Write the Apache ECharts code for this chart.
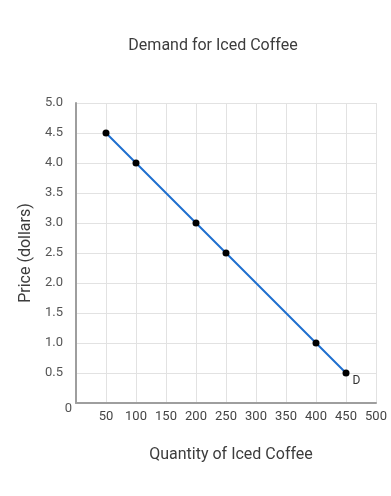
<!DOCTYPE html>
<html><head><meta charset="utf-8">
<script src="https://cdn.jsdelivr.net/npm/echarts@6/dist/echarts.min.js"></script>
<style>html,body{margin:0;padding:0;background:#fff}#c{width:391px;height:496px}</style>
</head><body><div id="c"></div>
<script>
const quantity = [50, 100, 200, 250, 400, 450];
const price = [4.5, 4.0, 3.0, 2.5, 1.0, 0.5];
const curveLabel = 'D';
const titleText = 'Demand for Iced Coffee';
const xName = 'Quantity of Iced Coffee';
const yName = 'Price (dollars)';

const chart = echarts.init(document.getElementById('c'), null, {renderer: 'canvas'});
const pts = quantity.map((q, i) => [q, price[i]]);
const font = 'Roboto, "Noto Sans", sans-serif';
chart.setOption({
  animation: false,
  textStyle: {fontFamily: font},
  title: {text: titleText, left: 208, top: 33, textAlign: 'center',
    textStyle: {fontSize: 16, fontWeight: 'normal', color: '#3c3c3c', fontFamily: font}},
  grid: {left: 76, right: 15, top: 103, bottom: 93},
  xAxis: {type: 'value', min: 0, max: 500, interval: 50,
    name: xName, nameLocation: 'middle', nameGap: 44,
    nameTextStyle: {fontSize: 16, color: '#3c3c3c', padding: [0, 0, 0, 10]},
    axisLine: {show: true, lineStyle: {color: '#9e9e9e', width: 2}},
    axisTick: {show: false},
    axisLabel: {fontSize: 13, color: '#444', margin: 7, showMinLabel: false,
      formatter: v => v === 0 ? '' : String(v)},
    splitLine: {show: true, lineStyle: {color: '#e2e2e2', width: 1}}},
  yAxis: {type: 'value', min: 0, max: 5, interval: 0.5,
    name: yName, nameLocation: 'middle', nameGap: 40,
    nameTextStyle: {fontSize: 16, color: '#3c3c3c'},
    axisLine: {show: true, lineStyle: {color: '#9e9e9e', width: 2}},
    axisTick: {show: false},
    axisLabel: {fontSize: 13, color: '#555', margin: 13,
      formatter: v => v === 0 ? '{z|0}' : v.toFixed(1),
      rich: {z: {fontSize: 13, color: '#555', padding: [12, -9, 0, 0]}}},
    splitLine: {show: true, lineStyle: {color: '#e2e2e2', width: 1}}},
  series: [{
    type: 'line', data: pts,
    lineStyle: {color: '#1f6fcf', width: 2},
    itemStyle: {color: '#000'},
    symbol: 'circle', symbolSize: 7, showAllSymbol: true,
    label: {show: true, formatter: p => p.dataIndex === pts.length - 1 ? curveLabel : '',
      position: 'right', offset: [-2, 8], fontSize: 12, color: '#333'}
  }]
});
</script></body></html>
